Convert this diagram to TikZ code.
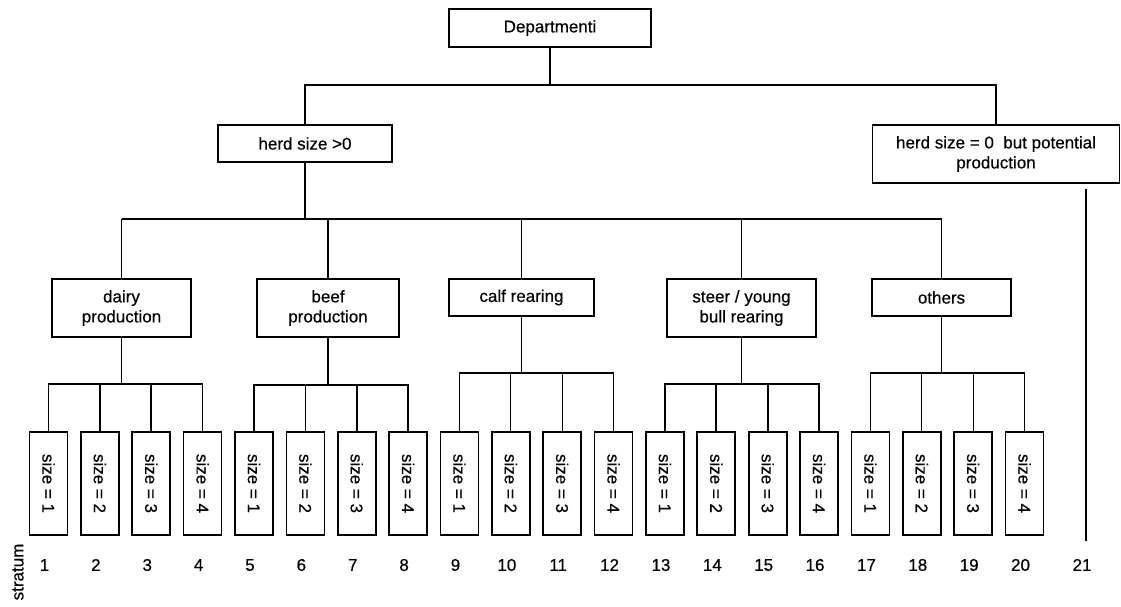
\documentclass[tikz,border=0pt]{standalone}
\usepackage{fontspec}
\setmainfont{Liberation Sans}
\newfontfamily\diagfont{Liberation Sans}[FakeBold=0.4]
\usepackage{graphicx}
\begin{document}
\begin{tikzpicture}[x=1pt,y=-1pt,
  box/.style={draw,line width=1.7pt,inner sep=0pt,align=center,font=\diagfont\fontsize{17}{20}\selectfont},
  conn/.style={line width=1.7pt},
  thinconn/.style={line width=1.2pt},
  lbl/.style={inner sep=0pt,font=\diagfont\fontsize{17}{20}\selectfont}]
\useasboundingbox (0,0) rectangle (1121,607);
% top levels
\node[box,minimum width=202pt,minimum height=38pt] (dept) at (550,28) {Departmenti};
\node[box,minimum width=174pt,minimum height=37pt] (herd) at (305,143.5) {herd size >0};
\node[box,minimum width=247pt,minimum height=58pt] (zero) at (996,154) {herd size = 0\ \ but potential\\production};
% level 3
\node[box,minimum width=139pt,minimum height=58pt] (dairy) at (121.5,308) {dairy\\production};
\node[box,minimum width=142pt,minimum height=58pt] (beef) at (328,308) {beef\\production};
\node[box,minimum width=145pt,minimum height=37pt] (calf) at (521.5,297.5) {calf rearing};
\node[box,minimum width=149pt,minimum height=58pt] (steer) at (741.5,308) {steer / young\\bull rearing};
\node[box,minimum width=139pt,minimum height=37pt] (others) at (941.5,297.5) {others};
% size boxes and stratum numbers
\foreach \i in {1,...,20} {
  \pgfmathsetmacro{\xc}{48.5+51.37*(\i-1)}
  \pgfmathtruncatemacro{\sz}{mod(\i-1,4)+1}
  \node[box,minimum width=38pt,minimum height=103pt] (s\i) at (\xc,483.5) {\rotatebox{-90}{size = \sz}};
  \node[lbl] (n\i) at (\xc-4,565) {\i};
}
\node[lbl] (n21) at (1082,565) {21};
\node[lbl,rotate=90] (strat) at (18,572) {stratum};
% connectors top
\coordinate (j0) at (550,85);
\draw[conn] (dept.south) -- (j0);
\draw[conn] (herd.north) -- (herd.north |- j0) -- (zero.north |- j0) -- (zero.north);
% connectors level 2
\coordinate (j1) at (0,219);
\draw[conn] (herd.south) -- (herd.south |- j1);
\draw[thinconn] (dairy.north |- j1) -- (others.north |- j1);
\draw[conn] (dairy.north) -- (dairy.north |- j1);
\draw[conn] (beef.north) -- (beef.north |- j1);
\draw[thinconn] (calf.north) -- (calf.north |- j1);
\draw[thinconn] (steer.north) -- (steer.north |- j1);
\draw[thinconn] (others.north) -- (others.north |- j1);
% connectors level 3
\foreach \p/\yj/\w [count=\g from 0] in {dairy/384/conn, beef/385/conn, calf/373/thinconn, steer/384/conn, others/373/thinconn} {
  \pgfmathtruncatemacro{\a}{4*\g+1}
  \pgfmathtruncatemacro{\b}{4*\g+4}
  \pgfmathtruncatemacro{\c}{4*\g+2}
  \pgfmathtruncatemacro{\d}{4*\g+3}
  \coordinate (jj\g) at (0,\yj);
  \draw[\w] (\p.south) -- (\p.south |- jj\g);
  \draw[\w] (s\a.north) -- (s\a.north |- jj\g) -- (s\b.north |- jj\g) -- (s\b.north);
  \draw[\w] (s\c.north) -- (s\c.north |- jj\g);
  \draw[\w] (s\d.north) -- (s\d.north |- jj\g);
}
% stratum 21 line
\coordinate (t21) at (1086,189);
\coordinate (b21) at (1086,541);
\draw[conn] (t21) -- (b21);
\end{tikzpicture}
\end{document}
